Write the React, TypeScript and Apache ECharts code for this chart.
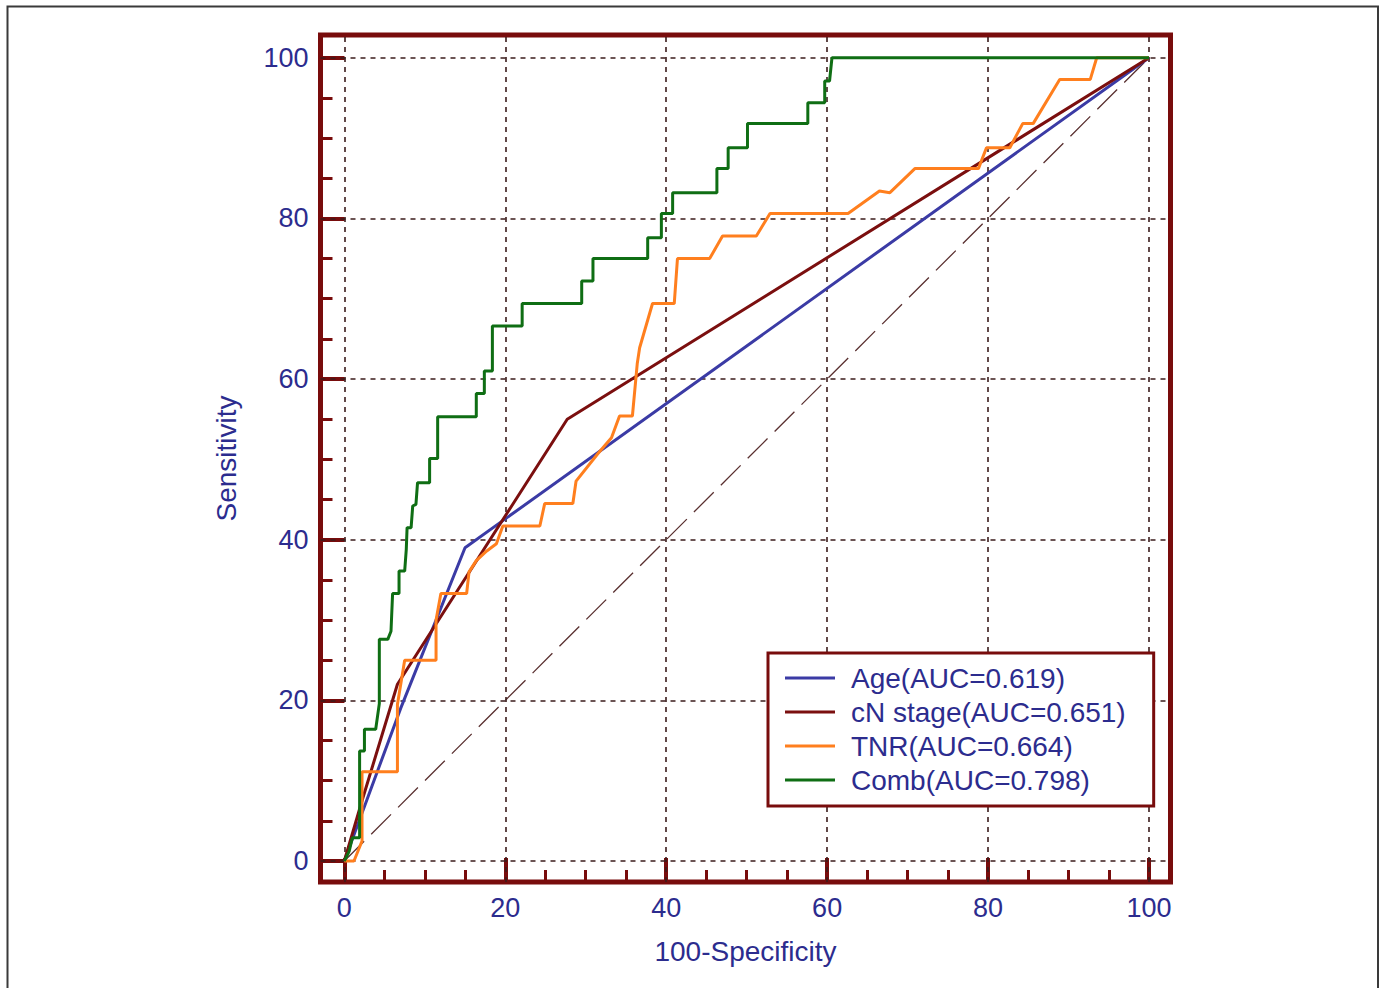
import React, { useEffect, useRef } from "react";
import * as echarts from "echarts";

const seriesNames = [
  "Age(AUC=0.619)",
  "cN stage(AUC=0.651)",
  "TNR(AUC=0.664)",
  "Comb(AUC=0.798)",
];

const ageData = [[0, 0], [7, 19], [15, 39], [100, 100]];

const cnData = [[0, 0], [2.2, 7.5], [6.6, 22], [27.7, 55], [100, 100]];

const tnrData = [
  [0, 0], [1.2, 0], [2.2, 2.5], [2.2, 11.1], [6.6, 11.1], [6.6, 19.5], [7.5, 25],
  [11.4, 25], [11.4, 30], [12, 33.3], [15.2, 33.3], [15.5, 36], [16.4, 37.4],
  [17.7, 38.6], [18.9, 39.5], [19.7, 41.7], [24.3, 41.7], [24.9, 44.5], [28.4, 44.5],
  [28.8, 47.3], [31.5, 50.7], [33.2, 52.7], [34.2, 55.4], [35.8, 55.4], [36.4, 61.9],
  [36.7, 63.9], [38.3, 69.4], [41.0, 69.4], [41.4, 75], [45.4, 75], [47, 77.8],
  [51.2, 77.8], [52.9, 80.6], [62.6, 80.6], [66.5, 83.4], [67.8, 83.2], [70.9, 86.2],
  [78.8, 86.2], [79.8, 88.8], [82.7, 88.8], [84.3, 91.8], [85.6, 91.8], [88.9, 97.3],
  [92.7, 97.3], [93.5, 100], [100, 100],
];

const combData = [
  [0, 0], [0.6, 1.2], [1, 2.9], [1.9, 2.9], [1.9, 13.7], [2.5, 13.7], [2.5, 16.4],
  [3.9, 16.4], [4.35, 19.6], [4.35, 27.6], [5.4, 27.6], [5.8, 28.6], [6.0, 33.3],
  [6.8, 33.3], [6.8, 36.1], [7.5, 36.1], [7.7, 38.8], [7.8, 41.5], [8.3, 41.5],
  [8.5, 44.2], [8.9, 44.4], [9.1, 47.1], [10.6, 47.1], [10.6, 50.1], [11.6, 50.1],
  [11.6, 55.3], [16.4, 55.3], [16.4, 58.2], [17.4, 58.2], [17.4, 61], [18.4, 61],
  [18.4, 66.6], [22.1, 66.6], [22.1, 69.4], [29.5, 69.4], [29.5, 72.2], [30.9, 72.2],
  [30.9, 75], [37.7, 75], [37.7, 77.6], [39.4, 77.6], [39.4, 80.6], [40.8, 80.6],
  [40.8, 83.2], [46.3, 83.2], [46.3, 86.2], [47.7, 86.2], [47.7, 88.8], [50.1, 88.8],
  [50.1, 91.8], [57.6, 91.8], [57.6, 94.4], [59.7, 94.4], [59.7, 97.1], [60.3, 97.1],
  [60.6, 100], [100, 100],
];

const diagonalData = [[0, 0], [100, 100]];

const majorTicks = [0, 20, 40, 60, 80, 100];
const minorTicks = [0, 5, 10, 15, 20, 25, 30, 35, 40, 45, 50, 55, 60, 65, 70, 75, 80, 85, 90, 95, 100];

const X_MIN = -2.96;
const X_MAX = 102.67;
const Y_MIN = -2.61;
const Y_MAX = 102.83;

const MAROON = "#780c0c";
const NAVY = "#2c2c8e";
const FONT = "'Liberation Sans', Arial, sans-serif";
const colors = ["#3b3ba5", "#7b0f0f", "#ff7f1e", "#0f6e14"];

export default function App() {
  const ref = useRef<HTMLDivElement>(null);

  useEffect(() => {
    const chart = echarts.init(ref.current!, null, { renderer: "svg" });

    const minorAxis = (isX: boolean) => ({
      type: "value",
      min: isX ? X_MIN : Y_MIN,
      max: isX ? X_MAX : Y_MAX,
      position: isX ? "bottom" : "left",
      axisLine: { show: false, onZero: false },
      splitLine: { show: false },
      axisLabel: { show: false },
      axisTick: {
        show: true,
        inside: true,
        length: 12,
        customValues: minorTicks,
        lineStyle: { color: MAROON, width: 3 },
      },
    });

    const majorAxis = (isX: boolean) => ({
      type: "value",
      min: isX ? X_MIN : Y_MIN,
      max: isX ? X_MAX : Y_MAX,
      position: isX ? "bottom" : "left",
      axisLine: { show: false, onZero: false },
      splitLine: { show: false },
      axisTick: {
        show: true,
        inside: true,
        length: 24,
        customValues: majorTicks,
        lineStyle: { color: MAROON, width: 4 },
      },
      axisLabel: {
        show: true,
        customValues: majorTicks,
        fontSize: 27,
        color: NAVY,
        fontFamily: FONT,
        margin: 12,
      },
      name: isX ? "100-Specificity" : "Sensitivity",
      nameLocation: "middle",
      nameGap: isX ? 55 : 80,
      nameRotate: isX ? 0 : 90,
      nameTextStyle: { fontSize: 28, color: NAVY, fontFamily: FONT },
    });

    const lineSeries = (i: number, data: number[][]) => ({
      type: "line",
      name: seriesNames[i],
      data,
      xAxisIndex: 0,
      yAxisIndex: 0,
      symbol: "none",
      color: colors[i],
      lineStyle: { color: colors[i], width: 3 },
      z: 5 + i,
    });

    const option: any = {
      animation: false,
      backgroundColor: "#ffffff",
      graphic: [
        {
          type: "rect",
          shape: { x: 7.5, y: 6.5, width: 1370.5, height: 1000 },
          style: { fill: "none", stroke: "#3a3a3a", lineWidth: 2 },
          silent: true,
          z: -10,
        },
      ],
      grid: {
        left: 320.5,
        top: 35,
        width: 850,
        height: 847,
        show: true,
        borderColor: MAROON,
        borderWidth: 5,
        backgroundColor: "#ffffff",
      },
      xAxis: [minorAxis(true), majorAxis(true)],
      yAxis: [minorAxis(false), majorAxis(false)],
      legend: {
        data: seriesNames,
        orient: "vertical",
        left: 768,
        top: 653,
        icon: "rect",
        itemWidth: 50,
        itemHeight: 3,
        itemGap: 4,
        padding: [10, 28, 11, 17],
        borderColor: MAROON,
        borderWidth: 3,
        backgroundColor: "#ffffff",
        textStyle: {
          fontSize: 28,
          color: NAVY,
          fontFamily: FONT,
          lineHeight: 30,
          padding: [0, 0, 0, 11],
        },
        z: 20,
      },
      series: [
        {
          type: "line",
          name: "diagonal",
          data: diagonalData,
          xAxisIndex: 0,
          yAxisIndex: 0,
          symbol: "none",
          lineStyle: { color: "#5a3030", width: 1.3, type: [28, 10] },
          z: 2,
          markLine: {
            silent: true,
            symbol: "none",
            label: { show: false },
            lineStyle: { color: "#3b1c1c", width: 1.6, type: [5, 5] },
            data: [
              ...majorTicks.map((v) => ({ xAxis: v })),
              ...majorTicks.map((v) => ({ yAxis: v })),
            ],
          },
        },
        lineSeries(0, ageData),
        lineSeries(1, cnData),
        lineSeries(2, tnrData),
        lineSeries(3, combData),
      ],
    };

    chart.setOption(option);
    return () => chart.dispose();
  }, []);

  return (
    <div
      ref={ref}
      style={{ position: "absolute", left: 0, top: 0, width: 1383, height: 988, background: "#fff" }}
    />
  );
}
